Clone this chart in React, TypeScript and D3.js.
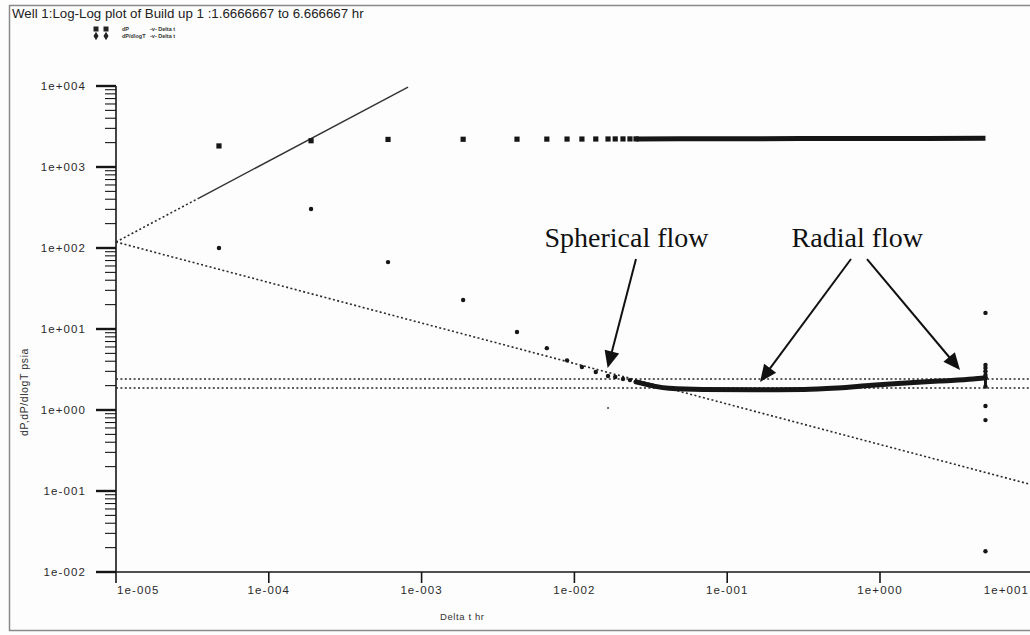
import React from 'react';
import * as d3 from 'd3';

// ---- Text ----
const TITLE = 'Well 1:Log-Log plot of Build up 1 :1.6666667 to 6.666667 hr';
const X_TITLE = 'Delta t  hr';
const Y_TITLE = 'dP,dP/dlogT  psia';
const LEGEND_LABELS = ['dP', 'dP/dlogT'];
const LEGEND_SUFFIX = '-v- Delta t';

// ---- Axes ----
const X_TICKS = [1e-5, 1e-4, 1e-3, 1e-2, 1e-1, 1e0, 1e1];
const X_TICK_LABELS = ['1e-005', '1e-004', '1e-003', '1e-002', '1e-001', '1e+000', '1e+001'];
const Y_TICKS = [1e-2, 1e-1, 1e0, 1e1, 1e2, 1e3, 1e4];
const Y_TICK_LABELS = ['1e-002', '1e-001', '1e+000', '1e+001', '1e+002', '1e+003', '1e+004'];
const MINOR_MULTIPLES = [2, 3, 4, 5, 6, 7, 8, 9];

// ---- Early-time samples (hr) ----
const SPARSE_TIMES = [4.72e-5, 1.89e-4, 6.03e-4, 1.87e-3, 4.21e-3, 6.6e-3, 8.95e-3, 0.0112, 0.0138, 0.0166, 0.0185, 0.0208, 0.0231, 0.0253];
// pressure change dP (psi)
const DP_SPARSE = [1820, 2110, 2190, 2200, 2205, 2210, 2212, 2214, 2216, 2218, 2220, 2221, 2222, 2223];
// pressure derivative dP/dlogT (psi)
const DERIV_SPARSE = [100, 303, 67, 22.8, 9.2, 5.8, 4.1, 3.4, 2.95, 2.63, 2.55, 2.41, 2.34, 2.22];

// ---- Late-time data, densely sampled ----
const DP_DENSE_TIMES = [0.0253, 0.05, 0.1, 0.3, 1.0, 2.0, 4.9];
const DP_DENSE = [2223, 2230, 2235, 2242, 2250, 2255, 2260];
const DERIV_DENSE_TIMES = [0.0253, 0.0416, 0.0695, 0.164, 0.318, 0.531, 0.887, 1.48, 2.43, 4.06, 4.9];
const DERIV_DENSE = [2.22, 1.85, 1.79, 1.78, 1.79, 1.87, 2.02, 2.15, 2.28, 2.41, 2.5];

// last-step derivative scatter
const END_TIME = 4.9;
const DERIV_END = [15.8, 3.6, 3.3, 3.0, 2.7, 1.95, 1.12, 0.75, 0.018];
const DERIV_STRAY_TIMES = [0.0166];
const DERIV_STRAY = [1.06];

// ---- Diagnostic lines ----
// unit-slope wellbore storage line (dotted part, then solid part)
const STORAGE_DOTTED_T = [1e-5, 3.44e-5];
const STORAGE_DOTTED_V = [118.6, 408];
const STORAGE_SOLID_T = [3.44e-5, 8.15e-4];
const STORAGE_SOLID_V = [408, 9670];
// half-slope spherical flow line
const SPHERICAL_T = [1e-5, 9.6];
const SPHERICAL_V = [118.6, 0.121];
// radial flow stabilisation levels
const RADIAL_LEVELS = [2.41, 1.87];
const RADIAL_SPAN = [1e-5, 9.6];

// ---- Annotations (positions in data units) ----
const SPHERICAL_TEXT = { label: 'Spherical flow', t: 0.00637, v: 103.5 };
const RADIAL_TEXT = { label: 'Radial flow', t: 0.264, v: 103.5 };
const ARROWS = [
  { from: [0.0253, 73.1], to: [0.0165, 3.3] },
  { from: [0.646, 73.1], to: [0.164, 2.22] },
  { from: [0.822, 73.1], to: [3.34, 3.12] },
];

const W = 1030;
const H = 635;

export default function App() {
  const x = d3.scaleLog().domain([1e-5, 1e1]).range([116, 1032.8]);
  const y = d3.scaleLog().domain([1e-2, 1e4]).range([572, 86]);

  const line = d3
    .line<[number, number]>()
    .x((d) => x(d[0]))
    .y((d) => y(d[1]));
  const smooth = d3
    .line<[number, number]>()
    .x((d) => x(d[0]))
    .y((d) => y(d[1]))
    .curve(d3.curveMonotoneX);

  const zip = (ts: number[], vs: number[]) => ts.map((t, i) => [t, vs[i]] as [number, number]);

  const minorTicks: number[] = [];
  for (let i = 0; i < Y_TICKS.length - 1; i++) {
    MINOR_MULTIPLES.forEach((m) => minorTicks.push(Y_TICKS[i] * m));
  }

  const ink = '#161616';
  const dotted = { stroke: '#2a2a2a', strokeWidth: 1.6, strokeDasharray: '2 2.4', fill: 'none' };
  const tickFont = { fontFamily: 'Liberation Sans, Arial, sans-serif', fontSize: 11.5, letterSpacing: 1.1, fill: '#2a2a2a' };

  const arrowHead = (fx: number, fy: number, tx: number, ty: number) => {
    const ang = Math.atan2(ty - fy, tx - fx);
    const len = 17;
    const hw = 7.5;
    const bx = tx - len * Math.cos(ang);
    const by = ty - len * Math.sin(ang);
    const px = -Math.sin(ang) * hw;
    const py = Math.cos(ang) * hw;
    return `${tx},${ty} ${bx + px},${by + py} ${bx - px},${by - py}`;
  };

  return (
    <svg
      width={W}
      height={H}
      viewBox={`0 0 ${W} ${H}`}
      style={{ position: 'absolute', left: 0, top: 0, background: '#fdfdfd' }}
    >
      <rect x={0} y={0} width={W} height={H} fill="#fdfdfd" />
      {/* outer frame */}
      <rect x={9.5} y={5.5} width={W + 10} height={625} fill="none" stroke="#8a8a8a" strokeWidth={1.5} />

      {/* title */}
      <text x={12} y={18} fontFamily="Liberation Sans, Arial, sans-serif" fontSize={13.3} fill="#222">
        {TITLE}
      </text>

      {/* legend */}
      <g fontFamily="Liberation Sans, Arial, sans-serif" fontSize={5.5} fontWeight="bold" fill="#333">
        {[0, 1].map((row) => {
          const cy = 29 + row * 7;
          return (
            <g key={row}>
              {[96, 106].map((cx) =>
                row === 0 ? (
                  <rect key={cx} x={cx - 2.5} y={cy - 2.5} width={5} height={5} fill="#222" />
                ) : (
                  <path key={cx} d={d3.symbol(d3.symbolDiamond, 22)() as string} transform={`translate(${cx},${cy})`} fill="#222" />
                )
              )}
              <text x={122} y={cy + 2}>{LEGEND_LABELS[row]}</text>
              <text x={150} y={cy + 2}>{LEGEND_SUFFIX}</text>
            </g>
          );
        })}
      </g>

      {/* y axis */}
      <line x1={x(1e-5)} x2={x(1e-5)} y1={y(1e4)} y2={y(1e-2)} stroke={ink} strokeWidth={1.6} />
      {minorTicks.map((v, i) => (
        <line key={`m${i}`} x1={x(1e-5) - 11} x2={x(1e-5)} y1={y(v)} y2={y(v)} stroke={ink} strokeWidth={1.1} />
      ))}
      {Y_TICKS.map((v, i) => (
        <g key={`y${i}`}>
          <line x1={x(1e-5) - 20} x2={x(1e-5)} y1={y(v)} y2={y(v)} stroke={ink} strokeWidth={2.4} />
          <text x={86} y={y(v)} textAnchor="end" dominantBaseline="central" {...tickFont}>
            {Y_TICK_LABELS[i]}
          </text>
        </g>
      ))}

      {/* x axis */}
      <line x1={x(1e-5) - 20} x2={W} y1={y(1e-2)} y2={y(1e-2)} stroke={ink} strokeWidth={1.6} />
      {X_TICKS.map((t, i) => {
        const last = i === X_TICKS.length - 1;
        const first = i === 0;
        return (
          <g key={`x${i}`}>
            <line x1={x(t)} x2={x(t)} y1={y(1e-2)} y2={y(1e-2) + 11} stroke={ink} strokeWidth={1.6} />
            <text
              x={first ? x(t) + 1 : last ? W - 1 : x(t)}
              y={y(1e-2) + 22}
              textAnchor={first ? 'start' : last ? 'end' : 'middle'}
              {...tickFont}
            >
              {X_TICK_LABELS[i]}
            </text>
          </g>
        );
      })}
      <text x={440} y={620} fontFamily="Liberation Sans, Arial, sans-serif" fontSize={9.5} letterSpacing={0.6} fill="#333">
        {X_TITLE}
      </text>
      <text
        transform={`translate(28, 392) rotate(-90)`}
        textAnchor="middle"
        fontFamily="Liberation Sans, Arial, sans-serif"
        fontSize={10.5}
        letterSpacing={0.6}
        fill="#333"
      >
        {Y_TITLE}
      </text>

      {/* diagnostic lines */}
      <path d={line(zip(STORAGE_DOTTED_T, STORAGE_DOTTED_V)) as string} {...dotted} />
      <path d={line(zip(STORAGE_SOLID_T, STORAGE_SOLID_V)) as string} fill="none" stroke="#333" strokeWidth={1.4} />
      <path d={line(zip(SPHERICAL_T, SPHERICAL_V)) as string} {...dotted} />
      {RADIAL_LEVELS.map((v, i) => (
        <path key={`r${i}`} d={line(RADIAL_SPAN.map((t) => [t, v] as [number, number])) as string} {...dotted} />
      ))}

      {/* dP */}
      {SPARSE_TIMES.map((t, i) => (
        <rect key={`dp${i}`} x={x(t) - 2.6} y={y(DP_SPARSE[i]) - 2.6} width={5.2} height={5.2} fill={ink} />
      ))}
      <path d={line(zip(DP_DENSE_TIMES, DP_DENSE)) as string} fill="none" stroke={ink} strokeWidth={5} />

      {/* derivative */}
      {SPARSE_TIMES.map((t, i) => (
        <circle key={`dv${i}`} cx={x(t)} cy={y(DERIV_SPARSE[i])} r={2.2} fill={ink} />
      ))}
      <path d={smooth(zip(DERIV_DENSE_TIMES, DERIV_DENSE)) as string} fill="none" stroke={ink} strokeWidth={5} strokeLinecap="round" />
      {DERIV_END.map((v, i) => (
        <circle key={`de${i}`} cx={x(END_TIME)} cy={y(v)} r={2.2} fill={ink} />
      ))}
      <line x1={x(END_TIME)} x2={x(END_TIME)} y1={y(DERIV_END[1])} y2={y(DERIV_END[5])} stroke={ink} strokeWidth={3} />
      {DERIV_STRAY_TIMES.map((t, i) => (
        <circle key={`ds${i}`} cx={x(t)} cy={y(DERIV_STRAY[i])} r={1} fill="#444" />
      ))}

      {/* flow regime annotations */}
      <g fontFamily="Liberation Serif, 'Times New Roman', serif" fontSize={28} fill="#111">
        <text x={x(SPHERICAL_TEXT.t)} y={y(SPHERICAL_TEXT.v)}>{SPHERICAL_TEXT.label}</text>
        <text x={x(RADIAL_TEXT.t)} y={y(RADIAL_TEXT.v)}>{RADIAL_TEXT.label}</text>
      </g>
      {ARROWS.map((a, i) => {
        const fx = x(a.from[0]);
        const fy = y(a.from[1]);
        const tx = x(a.to[0]);
        const ty = y(a.to[1]);
        const ang = Math.atan2(ty - fy, tx - fx);
        return (
          <g key={`a${i}`}>
            <line x1={fx} y1={fy} x2={tx - 14 * Math.cos(ang)} y2={ty - 14 * Math.sin(ang)} stroke="#111" strokeWidth={2} />
            <polygon points={arrowHead(fx, fy, tx, ty)} fill="#111" />
          </g>
        );
      })}
    </svg>
  );
}
